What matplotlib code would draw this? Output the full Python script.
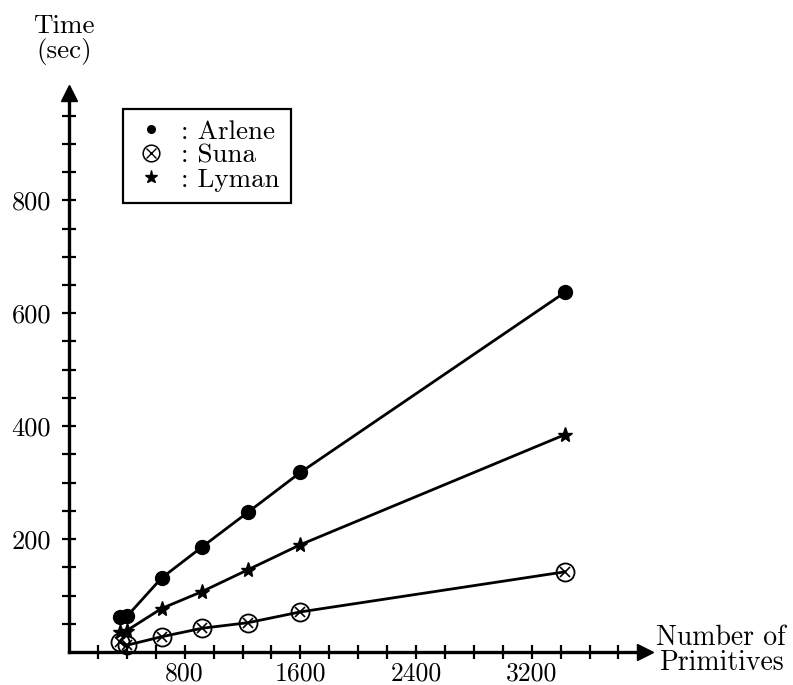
import matplotlib
matplotlib.use("Agg")
import matplotlib.pyplot as plt
from matplotlib.lines import Line2D
from matplotlib.legend_handler import HandlerTuple
from matplotlib.ticker import FixedLocator, NullFormatter, FixedFormatter

# ---- data ----
primitives = [350, 400, 640, 920, 1240, 1600, 3430]
arlene = [62, 63, 131, 186, 248, 318, 637]
lyman = [36, 38, 77, 107, 146, 190, 385]
suna = [18, 12, 27, 42, 52, 71, 142]

x_labelled = [800, 1600, 2400, 3200]
x_tick_labels = ["800", "1600", "2400", "3200"]
x_minor = [200, 400, 600, 1000, 1200, 1400, 1800, 2000, 2200, 2600, 2800, 3000, 3400, 3600, 3800]
y_labelled = [200, 400, 600, 800]
y_tick_labels = ["200", "400", "600", "800"]
y_minor = [50, 100, 150, 250, 300, 350, 450, 500, 550, 650, 700, 750, 850, 900, 950]

FONT = "cmr10"
plt.rcParams["font.family"] = [FONT, "DejaVu Serif"]
plt.rcParams["axes.formatter.use_mathtext"] = True

W, H = 793, 685
fig = plt.figure(figsize=(W / 100, H / 100), dpi=100)
ax = fig.add_axes([69 / W, 33 / H, 575.5 / W, 559 / H])
ax.set_xlim(0, 3980)
ax.set_ylim(0, 990)

lw = 2.0
# lines + markers
ax.plot(primitives, arlene, color="k", lw=lw, marker="o", ms=10, zorder=3, clip_on=False)
ax.plot(primitives, lyman, color="k", lw=lw, marker="*", ms=11, zorder=3, clip_on=False)
ax.plot(primitives, suna, color="k", lw=lw, marker="o", ms=13, mfc="none", mew=1.3, zorder=3, clip_on=False)
ax.plot(primitives, suna, color="k", lw=0, marker="x", ms=7.5, mew=1.2, zorder=3, clip_on=False)

# axes styling
for s in ("top", "right"):
    ax.spines[s].set_visible(False)
for s in ("left", "bottom"):
    ax.spines[s].set_linewidth(2.4)
ax.plot(1, 0, ">k", ms=11, transform=ax.get_yaxis_transform(), clip_on=False)
ax.plot(0, 1, "^k", ms=11, transform=ax.get_xaxis_transform(), clip_on=False)

ax.xaxis.set_major_locator(FixedLocator(x_labelled))
ax.xaxis.set_major_formatter(FixedFormatter(x_tick_labels))
ax.xaxis.set_minor_locator(FixedLocator(x_minor))
ax.xaxis.set_minor_formatter(NullFormatter())
ax.yaxis.set_major_locator(FixedLocator(y_labelled))
ax.yaxis.set_major_formatter(FixedFormatter(y_tick_labels))
ax.yaxis.set_minor_locator(FixedLocator(y_minor))
ax.yaxis.set_minor_formatter(NullFormatter())
ax.tick_params(which="both", direction="inout", length=10, width=1.6, color="k")
ax.tick_params(axis="x", which="major", labelsize=18.5, pad=2)
ax.tick_params(axis="y", which="major", labelsize=19, pad=8)

# axis titles
fig.text(64 / W, 1 - 40 / H, "Time\n(sec)", ha="center", va="center", fontsize=19.5, linespacing=1.0)
fig.text(721 / W, 1 - 650 / H, "Number of\nPrimitives", ha="center", va="center", fontsize=20, linespacing=0.95)

# legend
h_ar = Line2D([], [], color="k", ls="none", marker="o", ms=5.5)
h_su_o = Line2D([], [], color="k", ls="none", marker="o", ms=12, mfc="none", mew=1.1)
h_su_x = Line2D([], [], color="k", ls="none", marker="x", ms=7, mew=1.0)
h_ly = Line2D([], [], color="k", ls="none", marker="*", ms=9.5)
leg = ax.legend([h_ar, (h_su_o, h_su_x), h_ly], [": Arlene", ": Suna", ": Lyman"],
                handler_map={tuple: HandlerTuple(ndivide=1, pad=0)},
                loc="upper left", bbox_to_anchor=(123 / W, 1 - 109 / H), bbox_transform=fig.transFigure,
                borderaxespad=0, fancybox=False, framealpha=1, edgecolor="k",
                fontsize=19.5, labelspacing=0.0, handlelength=1.3, handletextpad=0.45,
                borderpad=0.4)
leg.get_frame().set_linewidth(1.6)

fig.savefig("out.png", dpi=100)
